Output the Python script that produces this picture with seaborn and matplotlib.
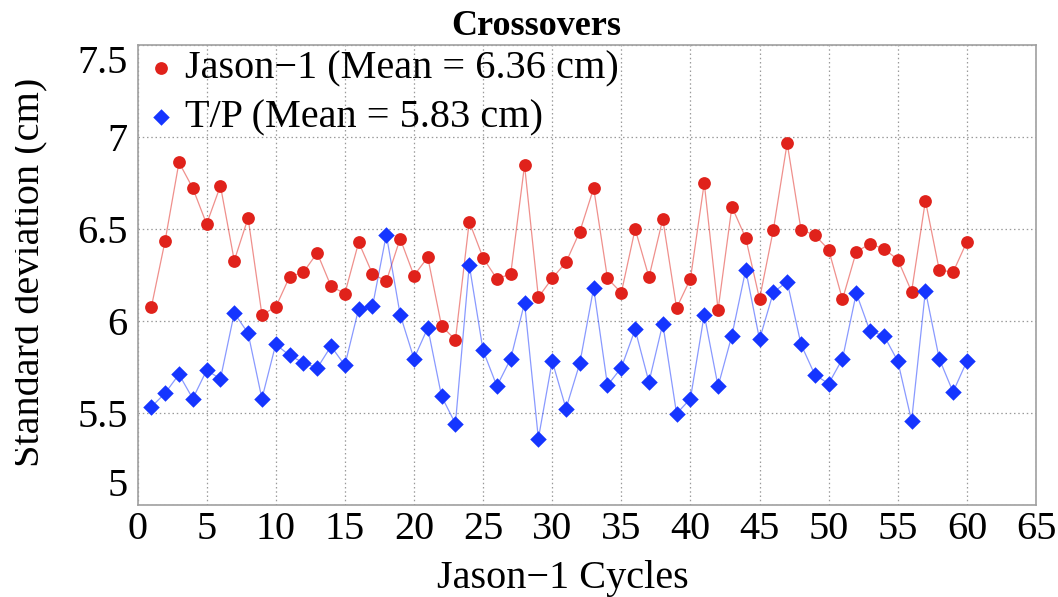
import matplotlib
matplotlib.use("Agg")
import matplotlib.pyplot as plt
import matplotlib.patches as mpatches
import seaborn as sns
import pandas as pd

cycles = [1, 2, 3, 4, 5, 6, 7, 8, 9, 10,
          11, 12, 13, 14, 15, 16, 17, 18, 19, 20,
          21, 22, 23, 24, 25, 26, 27, 28, 29, 30,
          31, 32, 33, 34, 35, 36, 37, 38, 39, 40,
          41, 42, 43, 44, 45, 46, 47, 48, 49, 50,
          51, 52, 53, 54, 55, 56, 57, 58, 59, 60]

jason1 = [6.075, 6.437, 6.862, 6.722, 6.527, 6.735, 6.328, 6.560, 6.035, 6.075,
          6.240, 6.265, 6.370, 6.189, 6.149, 6.428, 6.256, 6.216, 6.448, 6.247,
          6.346, 5.972, 5.898, 6.540, 6.343, 6.229, 6.256, 6.847, 6.129, 6.232,
          6.319, 6.486, 6.722, 6.232, 6.153, 6.500, 6.238, 6.554, 6.071, 6.229,
          6.750, 6.061, 6.621, 6.451, 6.120, 6.496, 6.967, 6.496, 6.467, 6.388,
          6.117, 6.377, 6.419, 6.392, 6.334, 6.160, 6.654, 6.278, 6.265, 6.431]

tp = [5.533, 5.608, 5.710, 5.578, 5.732, 5.686, 6.043, 5.934, 5.578, 5.873,
      5.813, 5.773, 5.744, 5.863, 5.759, 6.066, 6.080, 6.469, 6.035, 5.795,
      5.963, 5.590, 5.442, 6.305, 5.840, 5.646, 5.795, 6.099, 5.361, 5.782,
      5.524, 5.771, 6.180, 5.650, 5.746, 5.954, 5.668, 5.985, 5.496, 5.578,
      6.035, 5.645, 5.921, 6.278, 5.900, 6.156, 6.214, 5.873, 5.708, 5.659,
      5.795, 6.151, 5.943, 5.921, 5.782, 5.457, 6.165, 5.795, 5.614, 5.782]

label_j1 = "Jason\u22121 (Mean = 6.36 cm)"
label_tp = "T/P (Mean = 5.83 cm)"
title = "Crossovers"
xlabel = "Jason\u22121 Cycles"
ylabel = "Standard deviation (cm)"
xticks = [0, 5, 10, 15, 20, 25, 30, 35, 40, 45, 50, 55, 60, 65]
yticks = [5, 5.5, 6, 6.5, 7, 7.5]
yticklabels = ["5", "5.5", "6", "6.5", "7", "7.5"]

sns.set_style("white")
plt.rcParams["font.family"] = ["Liberation Serif", "DejaVu Serif"]
plt.rcParams["text.color"] = "black"
plt.rcParams["axes.labelcolor"] = "black"
plt.rcParams["xtick.color"] = "black"
plt.rcParams["ytick.color"] = "black"

RED = "#e0221b"
BLUE = "#1535ff"

df = pd.DataFrame({"cycle": cycles, "jason1": jason1, "tp": tp})

W, H = 1058, 597
fig = plt.figure(figsize=(W / 100, H / 100), dpi=100)
L, R, T, B = 137.5, 1036, 45, 505
ax = fig.add_axes([L / W, 1 - B / H, (R - L) / W, (B - T) / H])

sns.lineplot(data=df, x="cycle", y="jason1", ax=ax, color=RED, alpha=0.5,
             linewidth=0.9, legend=False, zorder=2)
sns.lineplot(data=df, x="cycle", y="tp", ax=ax, color=BLUE, alpha=0.5,
             linewidth=0.9, legend=False, zorder=2)
sns.scatterplot(data=df, x="cycle", y="jason1", ax=ax, color=RED, marker="o",
                s=9.2 ** 2, linewidth=0, label=label_j1, zorder=3)
sns.scatterplot(data=df, x="cycle", y="tp", ax=ax, color=BLUE, marker="D",
                s=8.4 ** 2, linewidth=0, label=label_tp, zorder=3)

ax.set_xlim(0, 65)
ax.set_ylim(5, 7.5)
ax.set_xticks(xticks)
ax.set_xticklabels([str(v) for v in xticks])
ax.set_yticks(yticks)
ax.set_yticklabels(yticklabels)
ax.tick_params(axis="both", length=0, labelsize=29, colors="black")
ax.tick_params(axis="y", pad=7)
ax.tick_params(axis="x", pad=4)
for lab in ax.get_yticklabels():
    if lab.get_text() == "7.5":
        lab.set_verticalalignment("top")
    elif lab.get_text() == "5":
        lab.set_verticalalignment("bottom")

ax.grid(True, color="#9a9a9a", linestyle=(0, (1.2, 2.2)), linewidth=0.9)
for sp in ax.spines.values():
    sp.set_color("#a0a0a0")
    sp.set_linewidth(1.2)

ax.set_xlabel(xlabel, fontsize=29, va="baseline", color="black")
ax.xaxis.set_label_coords((563 - L) / (R - L), (B - 588) / (B - T))
ax.set_ylabel(ylabel, fontsize=29, va="center", color="black")
ax.yaxis.set_label_coords((29.5 - L) / (R - L), (B - 272.5) / (B - T))

fig.text(536 / W, 1 - 35 / H, title, ha="center", va="baseline",
         fontsize=26, fontweight="bold", color="black")

leg = ax.legend(loc="upper left",
                bbox_to_anchor=((148.7 - L) / (R - L), (B - 50) / (B - T)),
                frameon=False, fontsize=29, handlelength=0.6, handletextpad=0.3,
                borderpad=0, borderaxespad=0, labelspacing=0.3,
                markerscale=1.0)
for txt in leg.get_texts():
    txt.set_color("black")

# emulate the clipped left edge of the reference
fig.patches.append(mpatches.Rectangle((0, 0), 15 / W, 1, transform=fig.transFigure,
                                      facecolor="white", edgecolor="none", zorder=10))

fig.savefig("out.png", dpi=100)
